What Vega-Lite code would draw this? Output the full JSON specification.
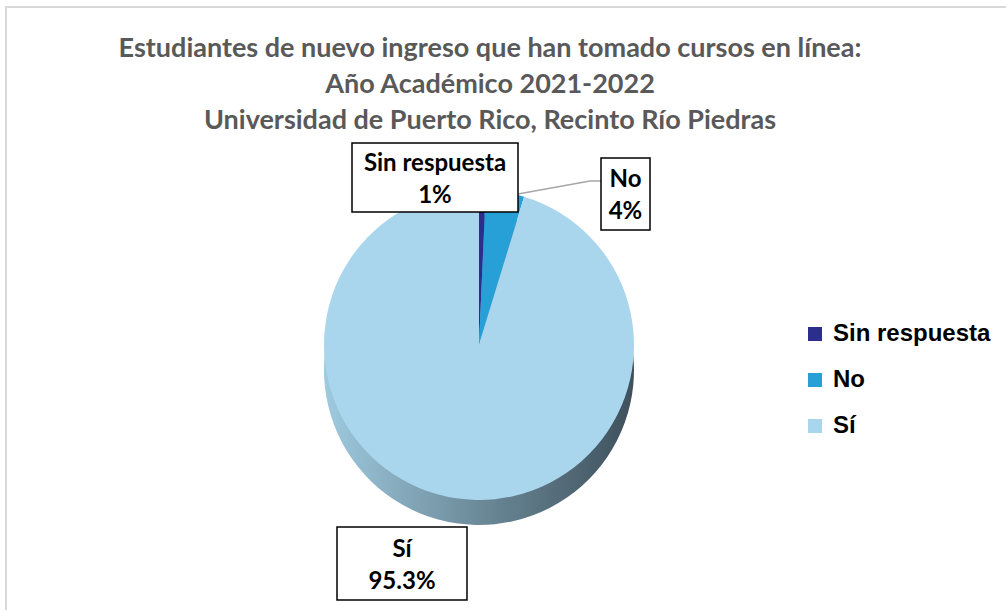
{
  "$schema": "https://vega.github.io/schema/vega-lite/v6.json",
  "width": 1010,
  "height": 610,
  "padding": {"left": 6, "top": 7, "right": 0, "bottom": 0},
  "autosize": {"type": "none"},
  "background": "white",
  "config": {"view": {"stroke": "#D9D9D9", "strokeWidth": 2}, "font": "Lato"},
  "title": {
    "text": ["Estudiantes de nuevo ingreso que han tomado cursos en línea:", "Año Académico 2021-2022", "Universidad de Puerto Rico, Recinto Río Piedras"],
    "font": "Lato",
    "fontSize": 27,
    "fontWeight": "bold",
    "color": "#595959",
    "lineHeight": 36,
    "anchor": "middle",
    "dx": -21,
    "dy": 132
  },
  "datasets": {
    "respuestas": [
      {"respuesta": "Sin respuesta", "porcentaje": 0.7, "orden": 1},
      {"respuesta": "No", "porcentaje": 4.0, "orden": 2},
      {"respuesta": "Sí", "porcentaje": 95.3, "orden": 3}
    ],
    "etiquetas": [
      {"respuesta": "Sin respuesta", "etiqueta": "1%", "izq": 352, "der": 518, "arriba": 143, "abajo": 212},
      {"respuesta": "No", "etiqueta": "4%", "izq": 601, "der": 650, "arriba": 158, "abajo": 230},
      {"respuesta": "Sí", "etiqueta": "95.3%", "izq": 337, "der": 467, "arriba": 527, "abajo": 600}
    ],
    "guia": [
      {"gx": 601, "gy": 181, "o": 1},
      {"gx": 590, "gy": 181, "o": 2},
      {"gx": 518, "gy": 194, "o": 3}
    ]
  },
  "layer": [
    {
      "data": {"name": "respuestas"},
      "mark": {
        "type": "arc",
        "radius": 155,
        "fill": {
          "gradient": "linear",
          "x1": 0, "y1": 0, "x2": 1, "y2": 0,
          "stops": [
            {"offset": 0, "color": "#9FCADF"},
            {"offset": 0.5, "color": "#6C8A99"},
            {"offset": 1, "color": "#3E505C"}
          ]
        }
      },
      "encoding": {
        "theta": {"field": "porcentaje", "type": "quantitative", "stack": true},
        "order": {"field": "orden", "type": "quantitative"},
        "x": {"datum": 479, "type": "quantitative", "scale": {"domain": [6, 1016], "nice": false, "zero": false}, "axis": null},
        "y": {"datum": 370, "type": "quantitative", "scale": {"domain": [7, 617], "reverse": true, "nice": false, "zero": false}, "axis": null}
      }
    },
    {
      "data": {"name": "respuestas"},
      "mark": {"type": "arc", "radius": 155},
      "encoding": {
        "theta": {"field": "porcentaje", "type": "quantitative", "stack": true},
        "order": {"field": "orden", "type": "quantitative"},
        "x": {"datum": 479, "type": "quantitative"},
        "y": {"datum": 345, "type": "quantitative"},
        "color": {
          "field": "respuesta",
          "type": "nominal",
          "scale": {"domain": ["Sin respuesta", "No", "Sí"], "range": ["#2B2E8C", "#27A0D8", "#A9D6EC"]},
          "legend": {
            "title": null,
            "orient": "none",
            "legendX": 797,
            "legendY": 315,
            "symbolType": "square",
            "symbolSize": 196,
            "symbolStrokeWidth": 0,
            "labelFont": "Liberation Sans",
            "labelFontSize": 24,
            "labelFontWeight": "bold",
            "labelColor": "#000000",
            "labelOffset": 6,
            "rowPadding": 22,
            "padding": 0
          }
        }
      }
    },
    {
      "data": {"name": "guia"},
      "mark": {"type": "line", "color": "#A6A6A6", "strokeWidth": 1.3},
      "encoding": {
        "x": {"field": "gx", "type": "quantitative"},
        "y": {"field": "gy", "type": "quantitative"},
        "order": {"field": "o", "type": "quantitative"}
      }
    },
    {
      "data": {"name": "etiquetas"},
      "mark": {"type": "rect", "fill": "white", "stroke": "black", "strokeWidth": 1.5},
      "encoding": {
        "x": {"field": "izq", "type": "quantitative"},
        "x2": {"field": "der"},
        "y": {"field": "arriba", "type": "quantitative"},
        "y2": {"field": "abajo"}
      }
    },
    {
      "data": {"name": "etiquetas"},
      "transform": [
        {"calculate": "datum.respuesta + '\\n' + datum.etiqueta", "as": "texto"},
        {"calculate": "(datum.izq + datum.der) / 2", "as": "cx"},
        {"calculate": "(datum.arriba + datum.abajo) / 2", "as": "cy"}
      ],
      "mark": {"type": "text", "lineBreak": "\n", "font": "Lato", "fontSize": 24, "fontWeight": "bold", "color": "black", "align": "center", "baseline": "middle", "lineHeight": 32, "dy": -14},
      "encoding": {
        "x": {"field": "cx", "type": "quantitative"},
        "y": {"field": "cy", "type": "quantitative"},
        "text": {"field": "texto", "type": "nominal"}
      }
    }
  ]
}
